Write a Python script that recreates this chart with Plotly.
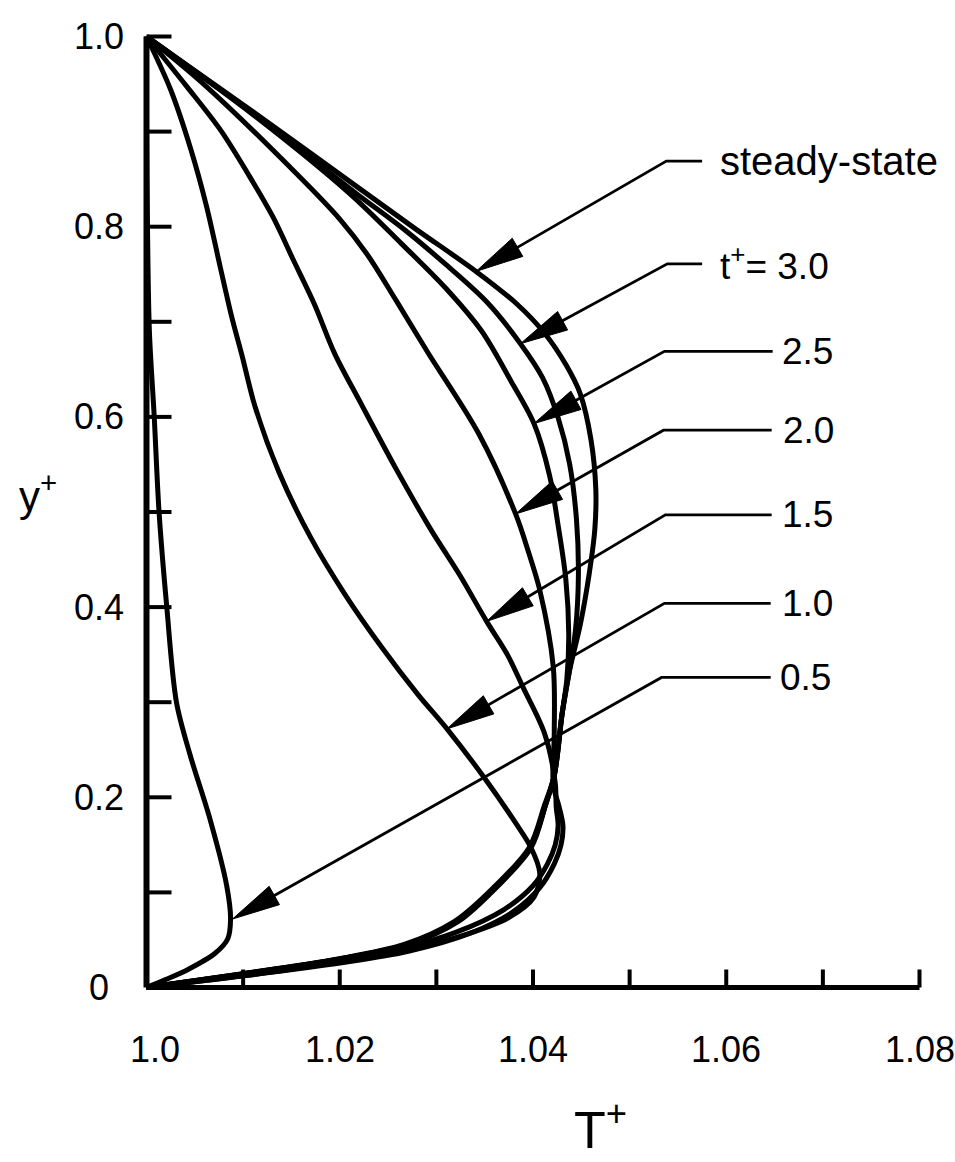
import plotly.graph_objects as go

# ---------------- data ----------------
# curve values: T+ (x) versus y+ (y)
y_05 = [1.0, 0.9, 0.8, 0.69, 0.6, 0.5, 0.4, 0.3, 0.245, 0.176, 0.107, 0.072, 0.051, 0.036, 0.019, 0.008, 0.0]
T_05 = [1.0, 1.0, 1.0001, 1.0003, 1.0008, 1.0013, 1.0021, 1.0031, 1.0045, 1.0066, 1.0083, 1.0087, 1.0084, 1.0071, 1.0043, 1.0019, 1.0]

y_10 = [1.0, 0.944, 0.881, 0.822, 0.759, 0.706, 0.664, 0.612, 0.542, 0.473, 0.414, 0.357, 0.308, 0.272,
        0.220, 0.173, 0.147, 0.120, 0.095, 0.073, 0.053, 0.040, 0.027, 0.012, 0.0]
T_10 = [1.0, 1.0025, 1.0046, 1.0062, 1.0076, 1.0088, 1.0099, 1.0112, 1.0137, 1.0170, 1.0205, 1.0244, 1.0281, 1.0311,
        1.0350, 1.0382, 1.0398, 1.0407, 1.0401, 1.0374, 1.0322, 1.0271, 1.0201, 1.0098, 1.0]

y_15 = [1.0, 0.947, 0.901, 0.854, 0.810, 0.765, 0.718, 0.666, 0.614, 0.544, 0.482, 0.434, 0.385, 0.349, 0.315, 0.267, 0.215,
        0.19, 0.17, 0.15, 0.13, 0.107, 0.082, 0.058, 0.040, 0.028, 0.013, 0.0]
T_15 = [1.0, 1.0042, 1.0077, 1.0106, 1.0131, 1.0152, 1.0174, 1.0195, 1.0222, 1.0259, 1.0294, 1.0324, 1.0352, 1.0374, 1.0390, 1.0412, 1.0423,
        1.0424, 1.0426, 1.0423, 1.0415, 1.0400, 1.0370, 1.0320, 1.0260, 1.0195, 1.0095, 1.0]

y_20 = [1.0, 0.951, 0.858, 0.808, 0.770, 0.723, 0.668, 0.582, 0.498, 0.459, 0.418, 0.337, 0.268, 0.213,
        0.19, 0.17, 0.15, 0.13, 0.105, 0.08, 0.057, 0.038, 0.026, 0.012, 0.0]
T_20 = [1.0, 1.0058, 1.0153, 1.0200, 1.0229, 1.0258, 1.0291, 1.0344, 1.0382, 1.0395, 1.0407, 1.0421, 1.0422, 1.0421,
        1.0427, 1.0431, 1.0429, 1.0422, 1.0407, 1.0380, 1.0335, 1.0271, 1.0202, 1.0098, 1.0]

y_25 = [1.0, 0.918, 0.835, 0.783, 0.735, 0.690, 0.638, 0.593, 0.539, 0.486, 0.429, 0.371, 0.324, 0.287,
        0.223, 0.192, 0.147, 0.098, 0.069, 0.045, 0.030, 0.014, 0.0]
T_25 = [1.0, 1.0110, 1.0210, 1.0263, 1.0310, 1.0347, 1.0377, 1.0401, 1.0417, 1.0426, 1.0434, 1.0437, 1.0435, 1.0430,
        1.0422, 1.0412, 1.0396, 1.0352, 1.0318, 1.0266, 1.0198, 1.0096, 1.0]

y_30 = [1.0, 0.919, 0.835, 0.796, 0.760, 0.721, 0.677, 0.641, 0.599, 0.550, 0.492, 0.434, 0.376, 0.329, 0.287,
        0.223, 0.192, 0.147, 0.098, 0.069, 0.045, 0.030, 0.014, 0.0]
T_30 = [1.0, 1.0110, 1.0217, 1.0268, 1.0310, 1.0352, 1.0387, 1.0410, 1.0426, 1.0438, 1.0445, 1.0447, 1.0444, 1.0437, 1.0430,
        1.0422, 1.0413, 1.0397, 1.0354, 1.0320, 1.0268, 1.0200, 1.0097, 1.0]

y_ss = [1.0, 0.921, 0.839, 0.798, 0.753, 0.719, 0.688, 0.655, 0.624, 0.576, 0.524, 0.482, 0.434, 0.382, 0.334, 0.287,
        0.223, 0.192, 0.147, 0.098, 0.069, 0.045, 0.030, 0.014, 0.0]
T_ss = [1.0, 1.0110, 1.0222, 1.0278, 1.0341, 1.0383, 1.0412, 1.0434, 1.0449, 1.0460, 1.0465, 1.0464, 1.0458, 1.0449, 1.0438, 1.0430,
        1.0422, 1.0413, 1.0398, 1.0355, 1.0322, 1.0270, 1.0201, 1.0098, 1.0]

# labels with leader arrows
label_text = ["steady-state", "t<sup>+</sup>= 3.0", "2.5", "2.0", "1.5", "1.0", "0.5"]
label_y = [0.869, 0.761, 0.669, 0.586, 0.497, 0.404, 0.326]
leader_left_T = [1.0538, 1.0539, 1.0536, 1.0535, 1.0537, 1.0536, 1.0533]
leader_right_T = [1.0575, 1.0575, 1.0648, 1.0647, 1.0647, 1.0646, 1.0646]
label_text_T = [1.0591, 1.0591, 1.0656, 1.0657, 1.0656, 1.0656, 1.0654]
tip_T = [1.0341, 1.0387, 1.0401, 1.0382, 1.0352, 1.0311, 1.0089]
tip_y = [0.753, 0.677, 0.593, 0.498, 0.385, 0.272, 0.072]

# axis ticks
x_ticks = [1.01, 1.02, 1.03, 1.04, 1.05, 1.06, 1.07, 1.08]
x_ticklabels = ["1.0", "1.02", "1.04", "1.06", "1.08"]
x_ticklabel_vals = [1.0, 1.02, 1.04, 1.06, 1.08]
y_ticks = [0.1, 0.2, 0.3, 0.4, 0.5, 0.6, 0.7, 0.8, 0.9, 1.0]
y_ticklabels = ["0", "0.2", "0.4", "0.6", "0.8", "1.0"]
y_ticklabel_vals = [0.0, 0.2, 0.4, 0.6, 0.8, 1.0]

# ---------------- geometry of the page ----------------
W, H = 955, 1162
PX_PER_T = 9662.5
PX_PER_Y = 951.0
X_ORIGIN_PX = 146.5
Y_ORIGIN_PX = 987.5
x_lo = 1.0 - X_ORIGIN_PX / PX_PER_T
x_hi = x_lo + W / PX_PER_T
y_lo = -(H - Y_ORIGIN_PX) / PX_PER_Y
y_hi = y_lo + H / PX_PER_Y

INK = "black"
FONT = "Liberation Sans, Arial, sans-serif"
CURVE_W = 5

fig = go.Figure()

curves = [(T_05, y_05), (T_10, y_10), (T_15, y_15), (T_20, y_20), (T_25, y_25), (T_30, y_30), (T_ss, y_ss)]
for T, y in curves:
    fig.add_trace(go.Scatter(x=T, y=y, mode="lines",
                             line=dict(color=INK, width=CURVE_W, shape="spline", smoothing=0.9),
                             hoverinfo="skip"))

# axes lines
fig.add_trace(go.Scatter(x=[1.0, 1.0], y=[0.0, 1.0], mode="lines", line=dict(color=INK, width=6), hoverinfo="skip"))
fig.add_trace(go.Scatter(x=[1.0, x_ticks[-1]], y=[0.0, 0.0], mode="lines", line=dict(color=INK, width=5), hoverinfo="skip"))

# tick marks
ytx, yty = [], []
for v in y_ticks:
    ytx += [1.0, 1.0 + 25 / PX_PER_T, None]
    yty += [v, v, None]
fig.add_trace(go.Scatter(x=ytx, y=yty, mode="lines", line=dict(color=INK, width=4), hoverinfo="skip"))
xtx, xty = [], []
for v in x_ticks:
    xtx += [v, v, None]
    xty += [0.0, 18 / PX_PER_Y, None]
fig.add_trace(go.Scatter(x=xtx, y=xty, mode="lines", line=dict(color=INK, width=4), hoverinfo="skip"))


def arrowhead(tx, ty, sx, sy, length=48.0, width=21.0):
    vx = (sx - tx) * PX_PER_T
    vy = (sy - ty) * PX_PER_Y
    n = (vx ** 2 + vy ** 2) ** 0.5
    ux, uy = vx / n, vy / n
    bx, by = ux * length, uy * length
    ox, oy = -uy * width / 2, ux * width / 2
    pts = [(0, 0), (bx + ox, by + oy), (bx - ox, by - oy), (0, 0)]
    xs = [tx + p[0] / PX_PER_T for p in pts]
    ys = [ty + p[1] / PX_PER_Y for p in pts]
    base = (tx + ux * length * 0.8 / PX_PER_T, ty + uy * length * 0.8 / PX_PER_Y)
    return xs, ys, base


annotations = []
for txt, ly, lT, rT, tT, ax, ay in zip(label_text, label_y, leader_left_T, leader_right_T,
                                        label_text_T, tip_T, tip_y):
    hx, hy, base = arrowhead(ax, ay, lT, ly)
    fig.add_trace(go.Scatter(x=[rT, lT, base[0]], y=[ly, ly, base[1]], mode="lines",
                             line=dict(color=INK, width=2.8), hoverinfo="skip"))
    fig.add_trace(go.Scatter(x=hx, y=hy, mode="lines", fill="toself", fillcolor=INK,
                             line=dict(color=INK, width=1), hoverinfo="skip"))
    size = 40 if txt == "steady-state" else 37
    annotations.append(dict(x=tT, y=ly, xref="x", yref="y", text=txt, showarrow=False,
                            xanchor="left", yanchor="middle", font=dict(family=FONT, size=size, color=INK)))

for lab, v in zip(y_ticklabels, y_ticklabel_vals):
    annotations.append(dict(x=1.0 - 48 / PX_PER_T, y=v, xref="x", yref="y", text=lab, showarrow=False,
                            xanchor="center", yanchor="middle", font=dict(family=FONT, size=36, color=INK)))
for lab, v in zip(x_ticklabels, x_ticklabel_vals):
    shift = 8 / PX_PER_T if v == 1.0 else 0.0
    annotations.append(dict(x=v + shift, y=-62 / PX_PER_Y, xref="x", yref="y", text=lab, showarrow=False,
                            xanchor="center", yanchor="middle", font=dict(family=FONT, size=36, color=INK)))

annotations.append(dict(x=1.047, y=-0.146, xref="x", yref="y", text="T<sup>+</sup>", showarrow=False,
                        xanchor="center", yanchor="middle", font=dict(family=FONT, size=52, color=INK)))
annotations.append(dict(x=0.9888, y=0.52, xref="x", yref="y", text="y<sup>+</sup>", showarrow=False,
                        xanchor="center", yanchor="middle", font=dict(family=FONT, size=42, color=INK)))

fig.update_layout(
    width=W, height=H,
    margin=dict(l=0, r=0, t=0, b=0),
    paper_bgcolor="white", plot_bgcolor="white",
    showlegend=False,
    xaxis=dict(visible=False, range=[x_lo, x_hi], fixedrange=True),
    yaxis=dict(visible=False, range=[y_lo, y_hi], fixedrange=True),
    annotations=annotations,
)

fig.write_html("out.html")
